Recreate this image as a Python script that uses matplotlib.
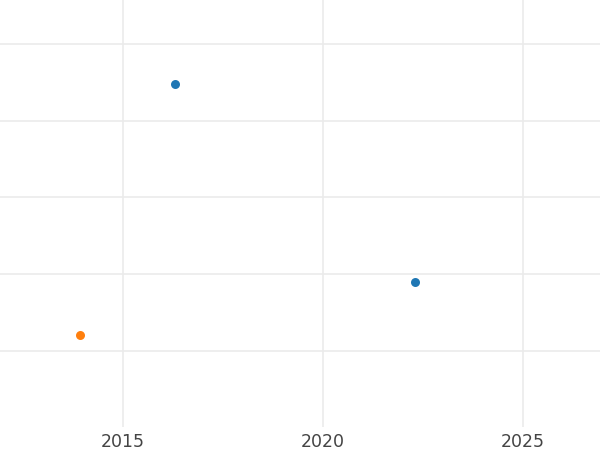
import matplotlib
matplotlib.use('Agg')
import matplotlib.pyplot as plt

# data
blue_years = [2016.3, 2022.3]
blue_vals = [4.47, 1.90]
orange_years = [2013.93]
orange_vals = [1.21]
x_ticks = [2015, 2020, 2025]
y_grid = [1, 2, 3, 4, 5]

fig = plt.figure(figsize=(6, 4.5), dpi=100)
ax = fig.add_axes([0, 0.051, 1, 0.949])

ax.scatter(blue_years, blue_vals, s=42, color='#1f77b4', zorder=3, linewidths=0)
ax.scatter(orange_years, orange_vals, s=42, color='#ff7f0e', zorder=3, linewidths=0)

ax.set_xlim(2011.92, 2026.92)
ax.set_ylim(0.01, 5.57)
ax.set_xticks(x_ticks)
ax.set_xticklabels([str(t) for t in x_ticks])
ax.set_yticks(y_grid)
ax.set_yticklabels([])
ax.tick_params(length=0, labelsize=12.5, colors='#444444', pad=4)
ax.grid(True, color='#ebebeb', linewidth=1.2)
ax.set_axisbelow(True)
for s in ax.spines.values():
    s.set_visible(False)

fig.savefig('out.png')
